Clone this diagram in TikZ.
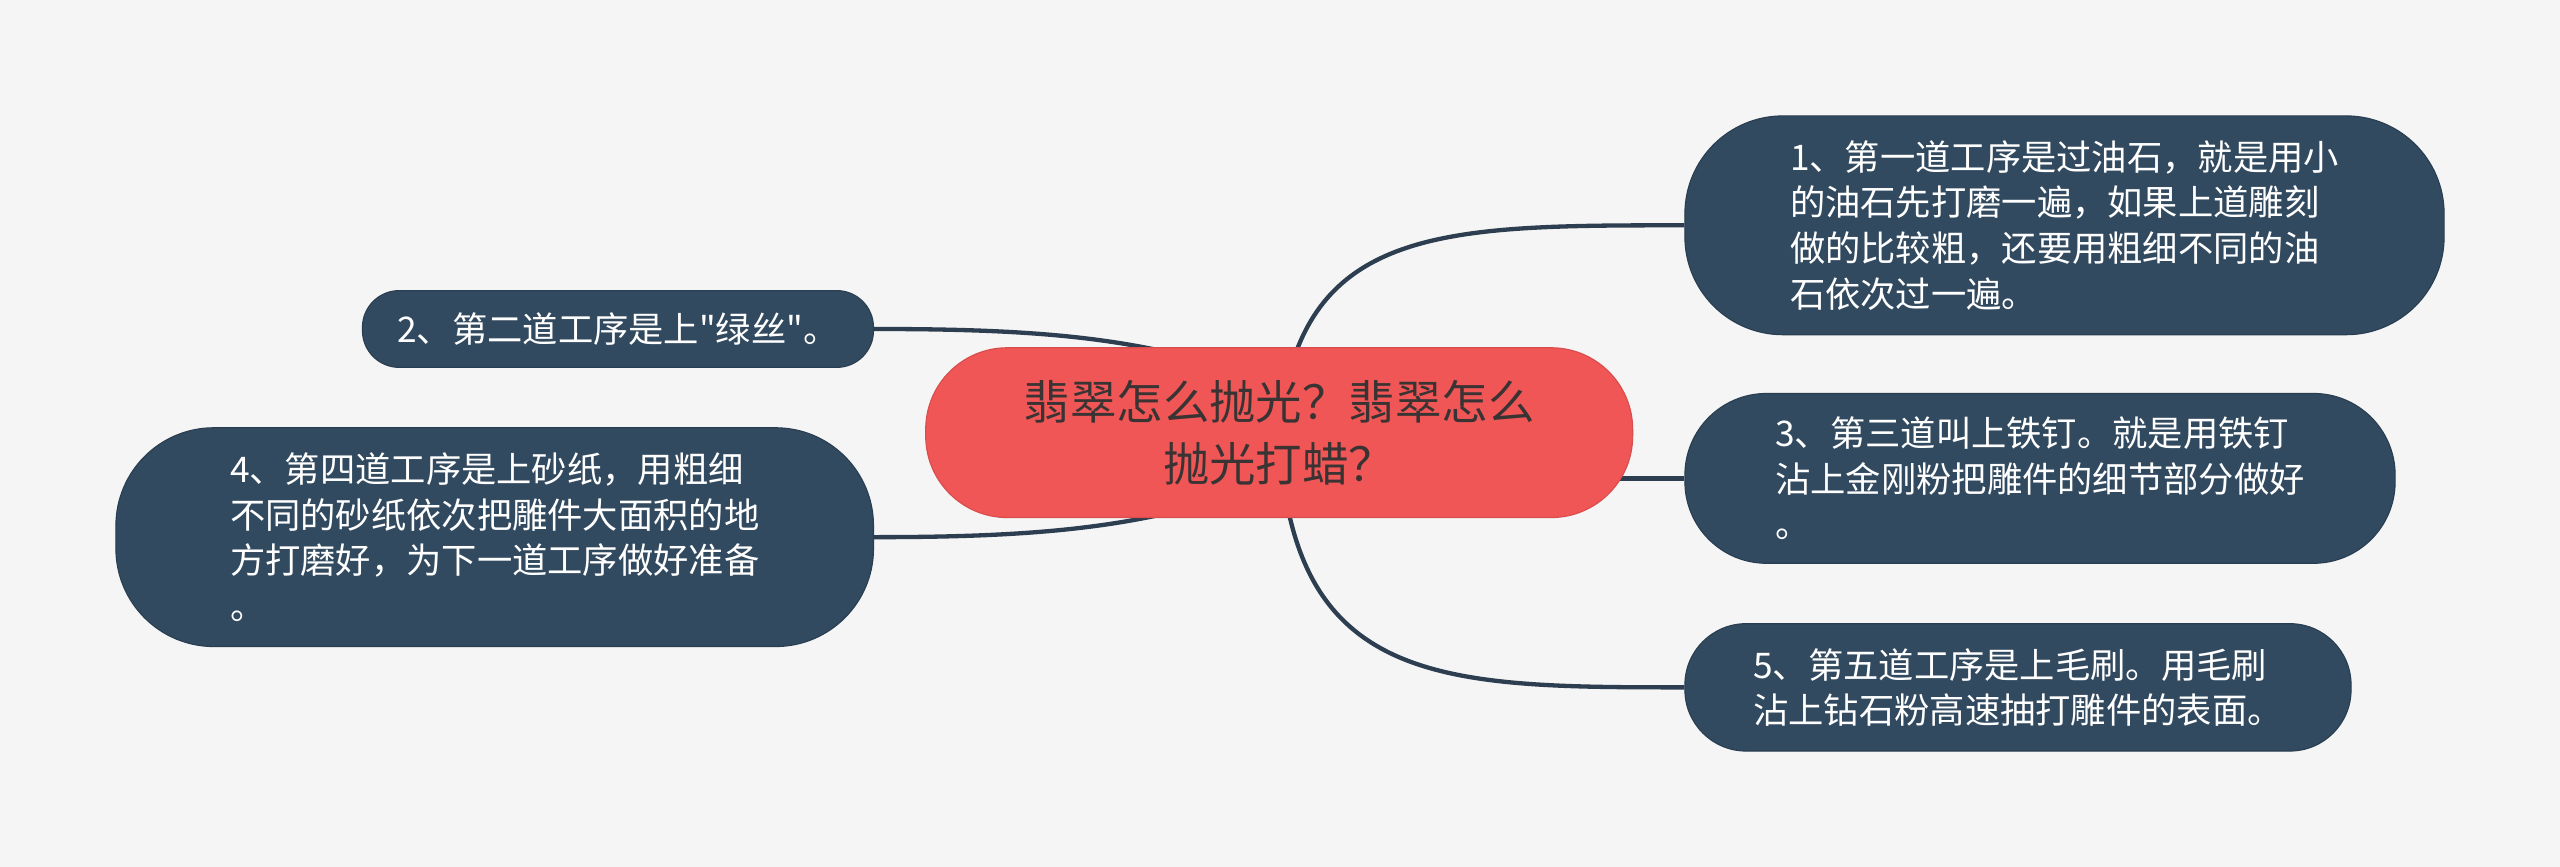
\documentclass[tikz,border=0pt]{standalone}
\usepackage{fontspec}
\newfontfamily\cjk{Noto Sans CJK SC}
\definecolor{bgcol}{HTML}{F5F5F5}
\definecolor{rootcol}{HTML}{F05656}
\definecolor{leafcol}{HTML}{324A5F}
\definecolor{leafline}{HTML}{2A3E52}
\definecolor{linkcol}{HTML}{2C3E50}
\definecolor{roottext}{HTML}{3A3333}
\pgfdeclarelayer{bgfill}
\pgfdeclarelayer{links}
\pgfsetlayers{bgfill,links,main}
\tikzset{
  rootbox/.style={draw=rootcol!90!black, line width=0.4pt, fill=rootcol, text=roottext,
    rounded corners=1.0cm, minimum width=8.66cm, minimum height=2.08cm,
    align=center, font=\cjk\fontsize{16.2}{21.6}\selectfont},
  leafbox/.style={draw=leafline, line width=0.4pt, fill=leafcol, text=white,
    align=left, font=\cjk\fontsize{12.3}{15.9}\selectfont},
  link/.style={draw=linkcol, line width=1.5pt}
}
\begin{document}
\begin{tikzpicture}
    \begin{pgfonlayer}{bgfill}
      \fill [bgcol] (0, 0) rectangle (31.36, -10.62);
    \end{pgfonlayer}
    \useasboundingbox (0, 0) rectangle (31.36, -10.62);
    \node [rootbox] (root) at (15.67, -5.30) {翡翠怎么抛光？翡翠怎么\\抛光打蜡？};
    \node [leafbox, rounded corners=1.2cm, minimum width=9.30cm, minimum height=2.68cm] (n1) at (25.29, -2.76)
      {1、第一道工序是过油石，就是用小\\的油石先打磨一遍，如果上道雕刻\\做的比较粗，还要用粗细不同的油\\石依次过一遍。};
    \node [leafbox, rounded corners=0.45cm, minimum width=6.26cm, minimum height=0.94cm] (n2) at (7.57, -4.03)
      {2、第二道工序是上"绿丝"。};
    \node [leafbox, rounded corners=1.0cm, minimum width=8.70cm, minimum height=2.08cm] (n3) at (24.99, -5.86)
      {3、第三道叫上铁钉。就是用铁钉\\沾上金刚粉把雕件的细节部分做好\\。};
    \node [leafbox, rounded corners=1.2cm, minimum width=9.28cm, minimum height=2.68cm] (n4) at (6.06, -6.58)
      {4、第四道工序是上砂纸，用粗细\\不同的砂纸依次把雕件大面积的地\\方打磨好，为下一道工序做好准备\\。};
    \node [leafbox, rounded corners=0.75cm, minimum width=8.16cm, minimum height=1.56cm] (n5) at (24.72, -8.42)
      {5、第五道工序是上毛刷。用毛刷\\沾上钻石粉高速抽打雕件的表面。};
    \begin{pgfonlayer}{links}
      \draw [link] (root.center) .. controls +(0.23, 2.54) and +(-3.0, 0) .. (n1.west);
      \draw [link] ([xshift=-0.87cm, yshift=0.86cm]root.center) .. controls +(-1.2, 0.34) and +(1.7, 0) .. (n2.east);
      \draw [link] (n3.west -| root.center) -- (n3.west);
      \draw [link] ([xshift=-0.87cm, yshift=-0.86cm]root.center) .. controls +(-1.2, -0.34) and +(1.7, 0) .. (n4.east);
      \draw [link] (root.center) .. controls +(0.13, -3.1) and +(-3.0, 0) .. (n5.west);
    \end{pgfonlayer}
  \end{tikzpicture}
\end{document}
